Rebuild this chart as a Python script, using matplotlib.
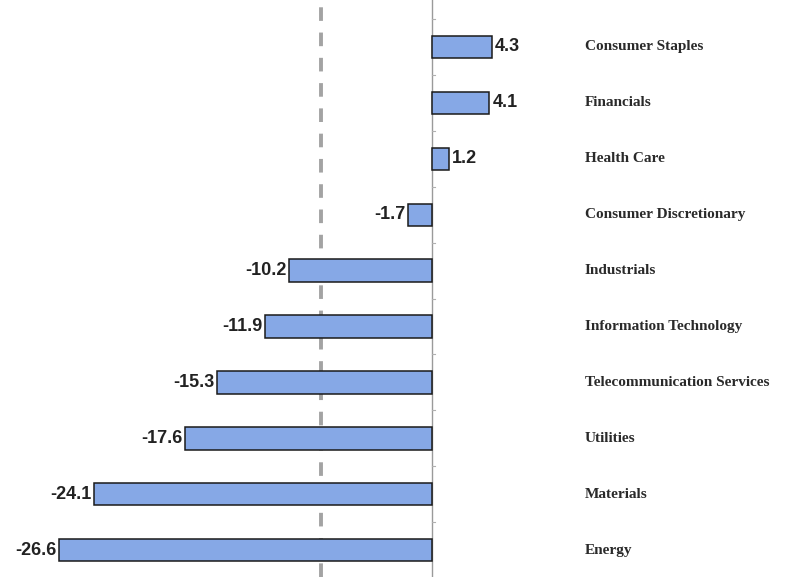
import matplotlib
matplotlib.use("Agg")
import matplotlib.pyplot as plt
import numpy as np

sectors = ["Consumer Staples", "Financials", "Health Care", "Consumer Discretionary",
           "Industrials", "Information Technology", "Telecommunication Services",
           "Utilities", "Materials", "Energy"]
returns = [4.3, 4.1, 1.2, -1.7, -10.2, -11.9, -15.3, -17.6, -24.1, -26.6]
index_return = -7.9

fig = plt.figure(figsize=(7.93, 5.77), dpi=100)
ax = fig.add_axes([0, 0, 1, 1])
ax.set_axis_off()

y = np.arange(len(sectors))
ax.barh(y, returns, height=0.4, color="#86a8e6", edgecolor="#1a1a1a", linewidth=1.1, zorder=3)

# zero axis with small ticks between rows
ax.axvline(0, color="#9a9a9a", lw=1.0, zorder=2)
for b in np.arange(-0.5, len(sectors), 1.0):
    ax.plot([0, 0.25], [b, b], color="#b0b0b0", lw=0.8, zorder=2)

# index benchmark, sits behind the bars
ax.axvline(index_return, color="#a3a3a3", lw=2.8, ls=(0, (3.5, 3)), zorder=1)

for yi, v in zip(y, returns):
    if v >= 0:
        ax.text(v + 0.2, yi, f"{v:.1f}", ha="left", va="center",
                fontsize=13, fontweight="bold", family="Liberation Sans", color="#222222")
    else:
        ax.text(v - 0.2, yi, f"{v:.1f}", ha="right", va="center",
                fontsize=13, fontweight="bold", family="Liberation Sans", color="#222222")
    ax.text(10.9, yi, sectors[yi], ha="left", va="center",
            fontsize=11, fontweight="bold", family="Liberation Serif", color="#2a2a2a")

ax.set_xlim(-30.81, 25.75)
ax.set_ylim(9.48, -0.84)

fig.savefig("out.png", dpi=100)
